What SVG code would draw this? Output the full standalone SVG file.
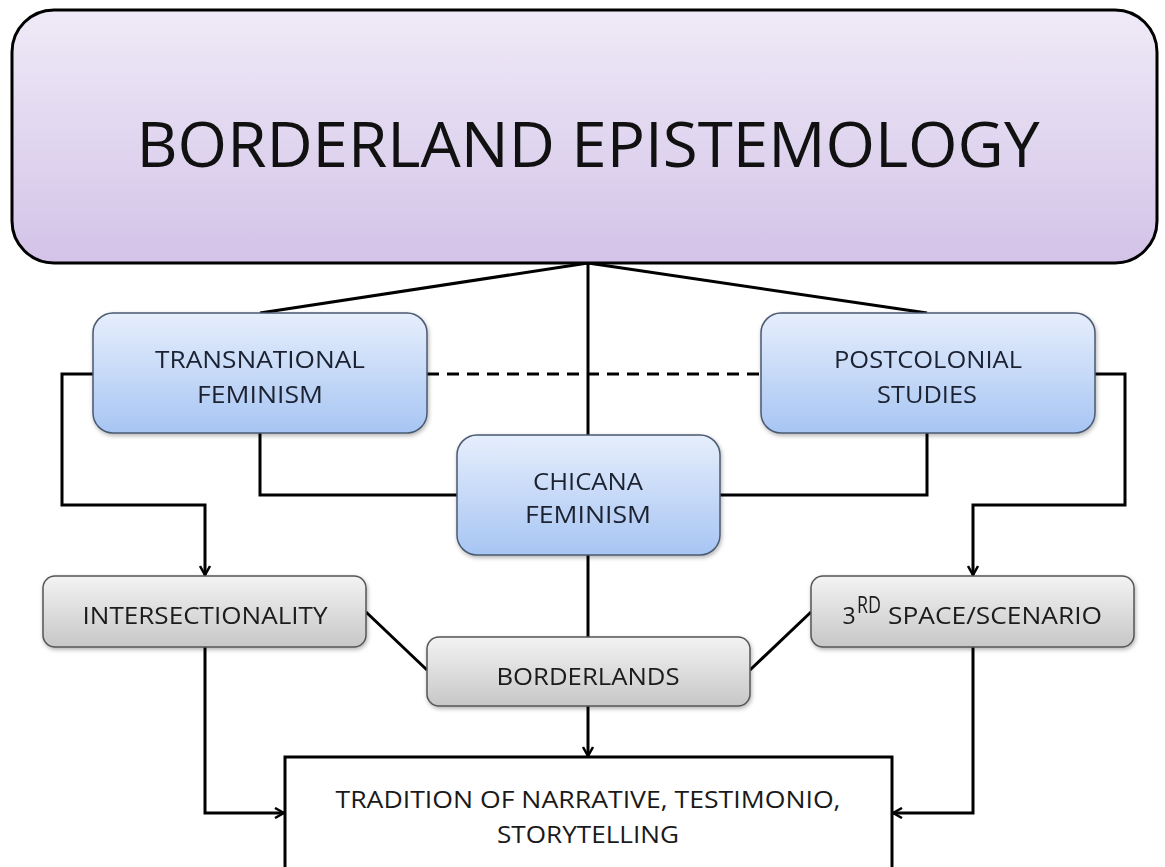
<svg xmlns="http://www.w3.org/2000/svg" width="1165" height="867" viewBox="0 0 1165 867">
<style>
  .lbl{font-family:"Open Sans","Liberation Sans",Arial,sans-serif;font-size:23px;fill:#1a1a1a;text-anchor:middle}
  .blbl{font-family:"Open Sans","Liberation Sans",Arial,sans-serif;font-size:23px;fill:#1b2230;text-anchor:middle}
  .conn{fill:none;stroke:#000;stroke-width:3}
  .blue{fill:url(#gBlue);stroke:#4a5a70;stroke-width:1.5}
  .gray{fill:url(#gGray);stroke:#555;stroke-width:1.5}
</style>
<defs>
  <linearGradient id="gTop" x1="0" y1="0" x2="0" y2="1">
    <stop offset="0" stop-color="#efeaf7"/>
    <stop offset="1" stop-color="#d3c3e8"/>
  </linearGradient>
  <linearGradient id="gBlue" x1="0" y1="0" x2="0" y2="1">
    <stop offset="0" stop-color="#e6eefc"/>
    <stop offset="1" stop-color="#a7c5f3"/>
  </linearGradient>
  <linearGradient id="gGray" x1="0" y1="0" x2="0" y2="1">
    <stop offset="0" stop-color="#f3f3f3"/>
    <stop offset="1" stop-color="#c7c7c7"/>
  </linearGradient>
  <filter id="sh" x="-10%" y="-10%" width="120%" height="130%">
    <feDropShadow dx="1" dy="2" stdDeviation="2" flood-color="#000" flood-opacity="0.3"/>
  </filter>
  <marker id="arr" viewBox="0 0 12 12" refX="11" refY="6" markerWidth="12" markerHeight="12" markerUnits="userSpaceOnUse" orient="auto">
    <polyline points="2,1 11,6 2,11" fill="none" stroke="#000" stroke-width="2.5"/>
  </marker>
</defs>
<rect width="1165" height="867" fill="#fff"/>

<g id="connectors">
  <line class="conn" x1="588" y1="263" x2="588" y2="435"/>
  <line class="conn" x1="588" y1="263" x2="260" y2="313"/>
  <line class="conn" x1="588" y1="263" x2="927" y2="313"/>
  <line class="conn" x1="427" y1="374" x2="761" y2="374" stroke-dasharray="12,8"/>
  <polyline class="conn" points="260,433 260,495 457,495"/>
  <polyline class="conn" points="927,433 927,495 720,495"/>
  <polyline class="conn" points="93,374 62,374 62,505 205,505 205,575" marker-end="url(#arr)"/>
  <polyline class="conn" points="1095,374 1125,374 1125,505 973,505 973,575" marker-end="url(#arr)"/>
  <line class="conn" x1="588" y1="555" x2="588" y2="637"/>
  <line class="conn" x1="366" y1="612" x2="427" y2="670"/>
  <line class="conn" x1="811" y1="612" x2="750" y2="670"/>
  <line class="conn" x1="588" y1="706" x2="588" y2="756" marker-end="url(#arr)"/>
  <polyline class="conn" points="205,647 205,813 284,813" marker-end="url(#arr)"/>
  <polyline class="conn" points="973,647 973,813 893,813" marker-end="url(#arr)"/>
</g>

<g id="borderland-epistemology">
  <rect x="12" y="10" width="1145" height="253" rx="42" ry="42" fill="url(#gTop)" stroke="#000" stroke-width="3"/>
  <text x="588" y="167" font-family="Open Sans,Liberation Sans,Arial,sans-serif" font-size="63" fill="#111" text-anchor="middle" textLength="903" lengthAdjust="spacingAndGlyphs">BORDERLAND EPISTEMOLOGY</text>
</g>

<g id="transnational-feminism" filter="url(#sh)">
  <rect class="blue" x="93" y="313" width="334" height="120" rx="20" ry="20"/>
  <text class="blbl" x="260" y="368" textLength="210" lengthAdjust="spacingAndGlyphs">TRANSNATIONAL</text>
  <text class="blbl" x="260" y="403" textLength="126" lengthAdjust="spacingAndGlyphs">FEMINISM</text>
</g>

<g id="postcolonial-studies" filter="url(#sh)">
  <rect class="blue" x="761" y="313" width="334" height="120" rx="20" ry="20"/>
  <text class="blbl" x="928" y="368" textLength="188" lengthAdjust="spacingAndGlyphs">POSTCOLONIAL</text>
  <text class="blbl" x="927" y="403" textLength="100" lengthAdjust="spacingAndGlyphs">STUDIES</text>
</g>

<g id="chicana-feminism" filter="url(#sh)">
  <rect class="blue" x="457" y="435" width="263" height="120" rx="20" ry="20"/>
  <text class="blbl" x="588" y="490" textLength="110" lengthAdjust="spacingAndGlyphs">CHICANA</text>
  <text class="blbl" x="588" y="523" textLength="126" lengthAdjust="spacingAndGlyphs">FEMINISM</text>
</g>

<g id="intersectionality" filter="url(#sh)">
  <rect class="gray" x="43" y="576" width="323" height="71" rx="12" ry="12"/>
  <text class="lbl" x="205" y="624" textLength="245" lengthAdjust="spacingAndGlyphs">INTERSECTIONALITY</text>
</g>

<g id="third-space" filter="url(#sh)">
  <rect class="gray" x="811" y="576" width="323" height="71" rx="12" ry="12"/>
  <text class="lbl" x="849" y="624">3</text>
  <text class="lbl" x="869" y="613" font-size="15" textLength="24" lengthAdjust="spacingAndGlyphs">RD</text>
  <text class="lbl" x="995" y="624" textLength="214" lengthAdjust="spacingAndGlyphs">SPACE/SCENARIO</text>
</g>

<g id="borderlands" filter="url(#sh)">
  <rect class="gray" x="427" y="637" width="323" height="69" rx="12" ry="12"/>
  <text class="lbl" x="588" y="685" textLength="183" lengthAdjust="spacingAndGlyphs">BORDERLANDS</text>
</g>

<g id="tradition">
  <rect x="285" y="757" width="607" height="130" fill="#fff" stroke="#000" stroke-width="3"/>
  <text class="lbl" x="588" y="808" textLength="505" lengthAdjust="spacingAndGlyphs">TRADITION OF NARRATIVE, TESTIMONIO,</text>
  <text class="lbl" x="588" y="843" textLength="182" lengthAdjust="spacingAndGlyphs">STORYTELLING</text>
</g>
</svg>
